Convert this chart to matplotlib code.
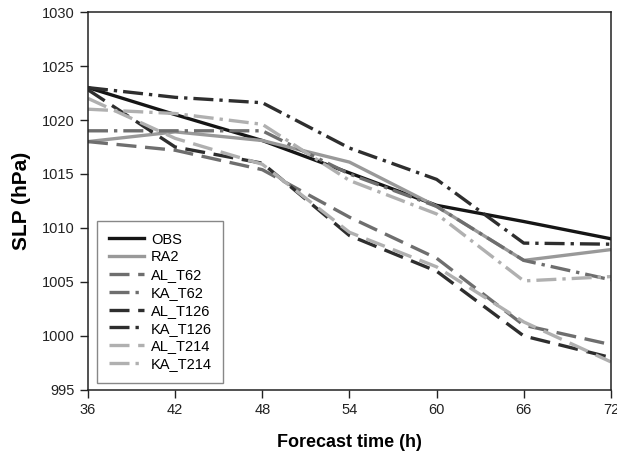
import matplotlib
matplotlib.use("Agg")
import matplotlib.pyplot as plt

hours = [36, 42, 48, 54, 60, 66, 72]
obs = [1023, 1020.5, 1018.1, 1015.1, 1012.1, 1010.6, 1009]
ra2 = [1018, 1018.9, 1018.1, 1016.1, 1012, 1007, 1008]
al_t62 = [1018, 1017.2, 1015.4, 1011, 1007.2, 1001, 999.2]
ka_t62 = [1019, 1019, 1019, 1015, 1012, 1007, 1005.2]
al_t126 = [1022.8, 1017.5, 1016, 1009.3, 1006, 1000, 998]
ka_t126 = [1023, 1022.1, 1021.6, 1017.4, 1014.5, 1008.6, 1008.5]
al_t214 = [1022, 1018.3, 1015.9, 1009.6, 1006.4, 1001.3, 997.6]
ka_t214 = [1021, 1020.6, 1019.6, 1014.4, 1011.3, 1005.1, 1005.5]

xticks = [36, 42, 48, 54, 60, 66, 72]
yticks = [995, 1000, 1005, 1010, 1015, 1020, 1025, 1030]

plt.rcParams['font.family'] = ['Liberation Sans', 'DejaVu Sans']

fig = plt.figure(figsize=(6.17, 4.55), dpi=100)
ax = fig.add_axes([0.1426, 0.1429, 0.8476, 0.8307])

lw = 2.4
dash = (0, (6.0, 2.6))
dashdot = (0, (6.0, 1.8, 1.0, 1.8))

series = [
    ("OBS", obs, "#151515", "-"),
    ("RA2", ra2, "#999999", "-"),
    ("AL_T62", al_t62, "#6e6e6e", dash),
    ("KA_T62", ka_t62, "#6e6e6e", dashdot),
    ("AL_T126", al_t126, "#2e2e2e", dash),
    ("KA_T126", ka_t126, "#2e2e2e", dashdot),
    ("AL_T214", al_t214, "#b0b0b0", dash),
    ("KA_T214", ka_t214, "#b0b0b0", dashdot),
]
for name, vals, col, ls in series:
    ax.plot(hours, vals, color=col, linestyle=ls, linewidth=lw, label=name)

ax.set_xlim(36, 72)
ax.set_ylim(995, 1030)
ax.set_xticks(xticks)
ax.set_yticks(yticks)
ax.tick_params(direction='out', length=6, width=1, labelsize=10.5, colors='#222222')
for s in ax.spines.values():
    s.set_linewidth(1.1)
    s.set_color('#222222')

ax.set_xlabel("Forecast time (h)", fontsize=13, fontweight='bold', labelpad=12)
ax.set_ylabel("SLP (hPa)", fontsize=15, fontweight='bold', labelpad=8)

leg = ax.legend(loc='lower left', bbox_to_anchor=(0.017, 0.019), borderaxespad=0,
                fontsize=10.5, handlelength=2.4, handletextpad=0.5, labelspacing=0.26,
                fancybox=False, framealpha=1, edgecolor='#888888', borderpad=0.8)
leg.get_frame().set_linewidth(1.0)

fig.savefig("out.png", dpi=100)
